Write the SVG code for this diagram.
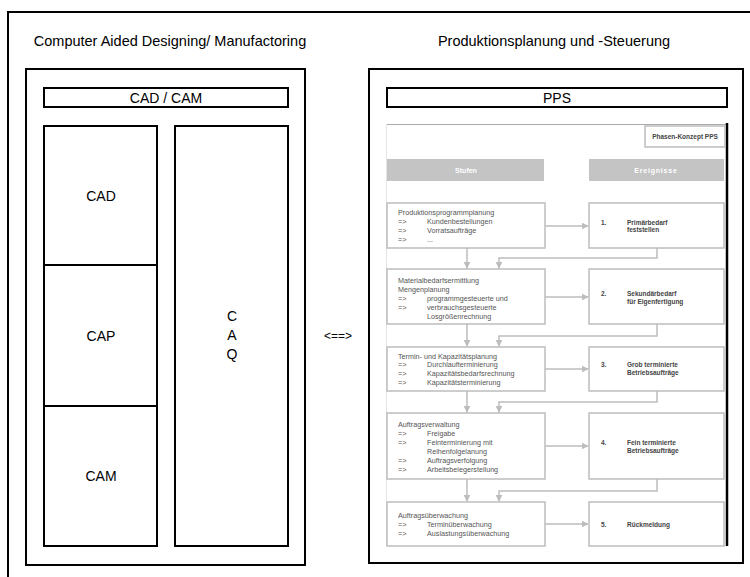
<svg xmlns="http://www.w3.org/2000/svg" width="750" height="577" viewBox="0 0 750 577">
<defs>
<style>
.frame{fill:none;stroke:#000;stroke-width:2}
.box{fill:#fff;stroke:#000;stroke-width:2}
.t{font-family:"Liberation Sans",Arial,sans-serif;fill:#000}
.big{font-size:14.5px}
.lbl{font-size:14px;text-anchor:middle}
.gbox{fill:#fff;stroke:#bdbdbd;stroke-width:1.5}
.hdr{fill:#c4c4c4}
.hdrt{font-family:"Liberation Sans",Arial,sans-serif;font-size:7px;font-weight:bold;fill:#fff;text-anchor:middle}
.st{font-family:"Liberation Sans",Arial,sans-serif;font-size:7.2px;fill:#555}
.ev{font-family:"Liberation Sans",Arial,sans-serif;font-size:6.5px;font-weight:bold;fill:#444}
.gl{fill:none;stroke:#bdbdbd;stroke-width:1.5}
</style>
<marker id="ah" viewBox="0 0 10 10" refX="9" refY="5" markerWidth="7" markerHeight="7" markerUnits="userSpaceOnUse" orient="auto">
<path d="M0,0 L10,5 L0,10 z" fill="#bdbdbd"/>
</marker>
</defs>
<rect width="750" height="577" fill="#fff"/>
<rect class="frame" x="8" y="12" width="770" height="600"/>

<g id="title-left"><text class="t big" x="170" y="46" text-anchor="middle">Computer Aided Designing/ Manufactoring</text></g>
<g id="title-right"><text class="t big" x="554" y="46" text-anchor="middle">Produktionsplanung und -Steuerung</text></g>

<g id="panel-cadcam"><rect class="frame" x="26" y="69" width="279" height="496"/></g>
<g id="cadcam"><rect class="box" x="44" y="88" width="244" height="19"/><text class="t lbl" x="166" y="102.5">CAD / CAM</text></g>
<g id="cad"><rect class="box" x="44" y="126" width="113" height="139"/><text class="t lbl" x="101" y="201">CAD</text></g>
<g id="cap"><rect class="box" x="44" y="265" width="113" height="141"/><text class="t lbl" x="101" y="341">CAP</text></g>
<g id="cam"><rect class="box" x="44" y="406" width="113" height="140"/><text class="t lbl" x="101" y="481">CAM</text></g>
<g id="caq"><rect class="box" x="175" y="126" width="113" height="420"/>
<text class="t lbl" x="232" y="321">C</text><text class="t lbl" x="232" y="340">A</text><text class="t lbl" x="232" y="359">Q</text></g>
<g id="link"><text class="t" x="338" y="340" font-size="12" text-anchor="middle">&lt;==&gt;</text></g>

<g id="panel-pps"><rect class="frame" x="369" y="69" width="374" height="494"/></g>
<g id="pps"><rect class="box" x="387" y="88" width="340" height="19"/><text class="t lbl" x="557" y="102.5">PPS</text></g>

<g id="phasen-konzept">
<rect x="386" y="124" width="341" height="422" fill="#fff"/>
<line x1="386" y1="124.5" x2="727" y2="124.5" stroke="#aaa" stroke-width="1"/>
<line x1="386.5" y1="124" x2="386.5" y2="546" stroke="#e4e4e4" stroke-width="1"/>
<line x1="727" y1="123" x2="727" y2="546" stroke="#000" stroke-width="2.5"/>
<g id="pk-title"><rect class="gbox" x="645" y="126" width="80" height="21" stroke-width="1"/><text class="ev" x="685" y="139" text-anchor="middle">Phasen-Konzept PPS</text></g>
<g id="hdr-stufen"><rect class="hdr" x="387" y="159" width="157" height="22"/><text class="hdrt" x="466" y="172.5">Stufen</text></g>
<g id="hdr-ereignisse"><rect class="hdr" x="589" y="159" width="135" height="22"/><text class="hdrt" x="656" y="172.5" letter-spacing="0.8">Ereignisse</text></g>

<g id="connectors">
<line class="gl" x1="545" y1="226" x2="588" y2="226" marker-end="url(#ah)"/>
<line class="gl" x1="545" y1="297" x2="588" y2="297" marker-end="url(#ah)"/>
<line class="gl" x1="545" y1="369" x2="588" y2="369" marker-end="url(#ah)"/>
<line class="gl" x1="545" y1="446" x2="588" y2="446" marker-end="url(#ah)"/>
<line class="gl" x1="545" y1="524" x2="588" y2="524" marker-end="url(#ah)"/>
<line class="gl" x1="467" y1="248" x2="467" y2="268" marker-end="url(#ah)"/>
<line class="gl" x1="467" y1="324" x2="467" y2="346" marker-end="url(#ah)"/>
<line class="gl" x1="467" y1="391" x2="467" y2="412" marker-end="url(#ah)"/>
<line class="gl" x1="467" y1="479" x2="467" y2="501" marker-end="url(#ah)"/>
<polyline class="gl" points="657,248 657,258 499,258 499,268" marker-end="url(#ah)"/>
<polyline class="gl" points="657,324 657,336 499,336 499,346" marker-end="url(#ah)"/>
<polyline class="gl" points="657,391 657,402 499,402 499,412" marker-end="url(#ah)"/>
<polyline class="gl" points="657,479 657,491 499,491 499,501" marker-end="url(#ah)"/>
</g>

<g id="stufe-1"><rect class="gbox" x="387" y="203" width="158" height="45"/>
<text class="st" x="398" y="214.5">Produktionsprogrammplanung</text>
<text class="st" x="398" y="223.5">=&gt;</text><text class="st" x="427" y="223.5">Kundenbestellungen</text>
<text class="st" x="398" y="232.5">=&gt;</text><text class="st" x="427" y="232.5">Vorratsaufträge</text>
<text class="st" x="398" y="241.5">=&gt;</text><text class="st" x="427" y="241.5">...</text></g>
<g id="stufe-2"><rect class="gbox" x="387" y="269" width="158" height="55"/>
<text class="st" x="398" y="282.5">Materialbedarfsermittlung</text>
<text class="st" x="398" y="291.5">Mengenplanung</text>
<text class="st" x="398" y="300.5">=&gt;</text><text class="st" x="427" y="300.5">programmgesteuerte und</text>
<text class="st" x="398" y="309.5">=&gt;</text><text class="st" x="427" y="309.5">verbrauchsgesteuerte</text>
<text class="st" x="427" y="318.5">Losgrößenrechnung</text></g>
<g id="stufe-3"><rect class="gbox" x="387" y="347" width="158" height="44"/>
<text class="st" x="398" y="358.5">Termin- und Kapazitätsplanung</text>
<text class="st" x="398" y="367">=&gt;</text><text class="st" x="427" y="367">Durchlaufterminierung</text>
<text class="st" x="398" y="375.5">=&gt;</text><text class="st" x="427" y="375.5">Kapazitätsbedarfsrechnung</text>
<text class="st" x="398" y="384.5">=&gt;</text><text class="st" x="427" y="384.5">Kapazitätsterminierung</text></g>
<g id="stufe-4"><rect class="gbox" x="387" y="413" width="158" height="66"/>
<text class="st" x="398" y="426.5">Auftragsverwaltung</text>
<text class="st" x="398" y="435.5">=&gt;</text><text class="st" x="427" y="435.5">Freigabe</text>
<text class="st" x="398" y="444.5">=&gt;</text><text class="st" x="427" y="444.5">Feinterminierung mit</text>
<text class="st" x="427" y="453.5">Reihenfolgelanung</text>
<text class="st" x="398" y="462.5">=&gt;</text><text class="st" x="427" y="462.5">Auftragsverfolgung</text>
<text class="st" x="398" y="471.5">=&gt;</text><text class="st" x="427" y="471.5">Arbeitsbelegerstellung</text></g>
<g id="stufe-5"><rect class="gbox" x="387" y="502" width="158" height="44"/>
<text class="st" x="398" y="517.5">Auftragsüberwachung</text>
<text class="st" x="398" y="526.5">=&gt;</text><text class="st" x="427" y="526.5">Terminüberwachung</text>
<text class="st" x="398" y="535.5">=&gt;</text><text class="st" x="427" y="535.5">Auslastungsüberwachung</text></g>

<g id="ereignis-1"><rect class="gbox" x="589" y="203" width="135" height="45"/>
<text class="ev" x="601" y="224.5">1.</text><text class="ev" x="627" y="224.5">Primärbedarf</text><text class="ev" x="627" y="231.5">feststellen</text></g>
<g id="ereignis-2"><rect class="gbox" x="589" y="269" width="135" height="55"/>
<text class="ev" x="601" y="295.5">2.</text><text class="ev" x="627" y="295.5">Sekundärbedarf</text><text class="ev" x="627" y="304">für Eigenfertigung</text></g>
<g id="ereignis-3"><rect class="gbox" x="589" y="347" width="135" height="44"/>
<text class="ev" x="601" y="367">3.</text><text class="ev" x="627" y="366.5">Grob terminierte</text><text class="ev" x="627" y="374.5">Betriebsaufträge</text></g>
<g id="ereignis-4"><rect class="gbox" x="589" y="413" width="135" height="66"/>
<text class="ev" x="601" y="445">4.</text><text class="ev" x="627" y="444.5">Fein terminierte</text><text class="ev" x="627" y="453">Betriebsaufträge</text></g>
<g id="ereignis-5"><rect class="gbox" x="589" y="502" width="135" height="44"/>
<text class="ev" x="601" y="526.5">5.</text><text class="ev" x="627" y="526.5">Rückmeldung</text></g>
</g>
</svg>
